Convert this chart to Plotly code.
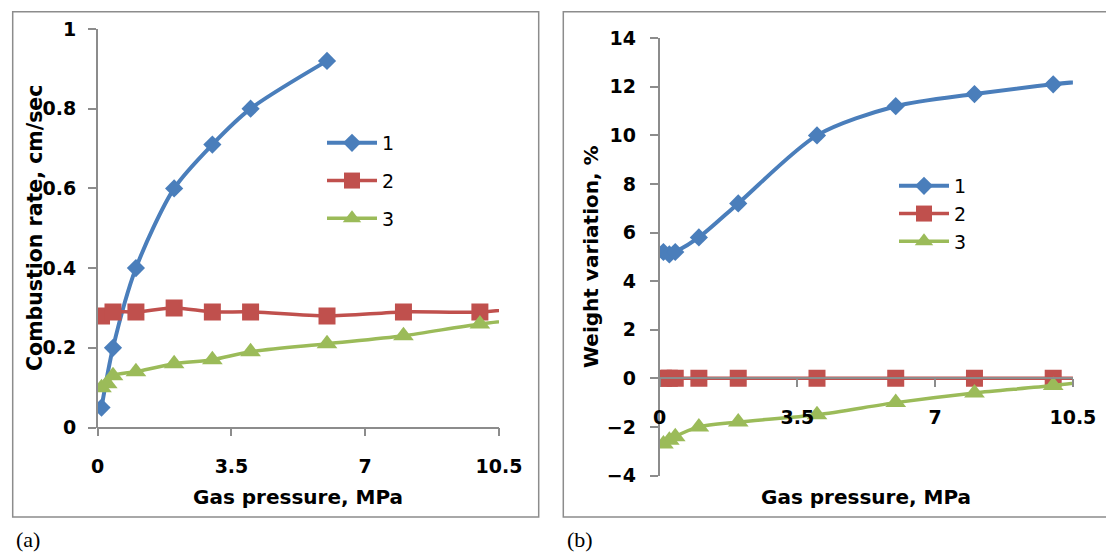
import plotly.graph_objects as go

# ---------------- data ----------------
# (a) combustion rate, cm/sec
a_x1 = [0.1, 0.4, 1, 2, 3, 4, 6]
a_y1 = [0.05, 0.20, 0.40, 0.60, 0.71, 0.80, 0.92]
a_x2 = [0.1, 0.4, 1, 2, 3, 4, 6, 8, 10, 12]
a_y2 = [0.28, 0.29, 0.29, 0.30, 0.29, 0.29, 0.28, 0.29, 0.29, 0.31]
a_x3 = [0.1, 0.25, 0.4, 1, 2, 3, 4, 6, 8, 10, 12]
a_y3 = [0.10, 0.11, 0.13, 0.14, 0.16, 0.17, 0.19, 0.21, 0.23, 0.26, 0.28]

# (b) weight variation, %
b_x = [0.1, 0.25, 0.4, 1, 2, 4, 6, 8, 10, 12]
b_y1 = [5.2, 5.1, 5.2, 5.8, 7.2, 10.0, 11.2, 11.7, 12.1, 12.4]
b_y2 = [0, 0, 0, 0, 0, 0, 0, 0, 0, 0]
b_y3 = [-2.7, -2.55, -2.4, -2.0, -1.8, -1.5, -1.0, -0.6, -0.3, 0.1]

series_names = ["1", "2", "3"]
x_ticks = [0, 3.5, 7, 10.5]
x_ticktext = ["0", "3.5", "7", "10.5"]
a_yticks = [0, 0.2, 0.4, 0.6, 0.8, 1]
a_yticktext = ["0", "0.2", "0.4", "0.6", "0.8", "1"]
b_yticks = [-4, -2, 0, 2, 4, 6, 8, 10, 12, 14]

# ---------------- style ----------------
OFF = 8                      # page body margin of the viewer
W, H = 1114 - OFF, 555 - OFF
BLUE, RED, GREEN = "#4A7EBB", "#C0504D", "#9BBB59"
GRAY = "#8C8C8C"
FONT = "DejaVu Sans"


def X(p):
    return (p - OFF) / W


def Y(p):
    return 1 - (p - OFF) / H


fig = go.Figure()

styles = [
    dict(color=BLUE, symbol="diamond", msize=14, lw=4),
    dict(color=RED, symbol="square", msize=17, lw=3.5),
    dict(color=GREEN, symbol="triangle-up", msize=18, lw=3.5),
]

a_data = [(a_x1, a_y1), (a_x2, a_y2), (a_x3, a_y3)]
b_data = [(b_x, b_y1), (b_x, b_y2), (b_x, b_y3)]

for i, (xs, ys) in enumerate(a_data):
    s = styles[i]
    fig.add_trace(go.Scatter(
        x=xs, y=ys, name=series_names[i], mode="lines+markers",
        line=dict(color=s["color"], width=s["lw"], shape="spline", smoothing=0.8),
        marker=dict(symbol=s["symbol"], size=s["msize"], color=s["color"]),
        xaxis="x", yaxis="y", legend="legend", legendgroup="a" + str(i),
    ))

for i, (xs, ys) in enumerate(b_data):
    s = styles[i]
    fig.add_trace(go.Scatter(
        x=xs, y=ys, name=series_names[i], mode="lines+markers",
        line=dict(color=s["color"], width=s["lw"], shape="spline", smoothing=0.8),
        marker=dict(symbol=s["symbol"], size=s["msize"], color=s["color"]),
        xaxis="x2", yaxis="y2", legend="legend2", legendgroup="b" + str(i),
    ))

tickfont = dict(family=FONT, size=19, color="black", weight="bold")
axis_common = dict(
    showgrid=False, zeroline=False, showline=True, linecolor=GRAY, linewidth=1.5,
    ticks="outside", ticklen=8, tickcolor=GRAY, tickwidth=1.5, tickfont=tickfont,
    automargin=False,
)

# plot areas (pixel measurements from the reference)
a_x0, a_x1p = 97.7, 499.0
a_ytop, a_ybot = 29.0, 427.5
b_x0, b_x1p = 659.5, 1072.9
b_ytop, b_ybot = 38.2, 475.5
b_zero = 378.3

fig.update_layout(
    width=W, height=H,
    margin=dict(l=0, r=0, t=0, b=0, autoexpand=False),
    paper_bgcolor="white", plot_bgcolor="white",
    showlegend=True,
    xaxis=dict(axis_common, domain=[X(a_x0), X(a_x1p)], range=[0, 10.5],
               tickvals=x_ticks, ticktext=x_ticktext, anchor="free",
               position=Y(a_ybot), ticklabelstandoff=14),
    yaxis=dict(axis_common, domain=[Y(a_ybot), Y(a_ytop)], range=[0, 1],
               tickvals=a_yticks, ticktext=a_yticktext, anchor="x",
               ticklabelstandoff=8),
    xaxis2=dict(axis_common, domain=[X(b_x0), X(b_x1p)], range=[0, 10.5],
                tickvals=x_ticks, ticktext=x_ticktext, anchor="free",
                position=Y(b_zero), ticklabelstandoff=14),
    yaxis2=dict(axis_common, domain=[Y(b_ybot), Y(b_ytop)], range=[-4, 14],
                tickvals=b_yticks, anchor="x2", ticklabelstandoff=10),
    legend=dict(x=X(322), y=Y(124), xanchor="left", yanchor="top",
                font=dict(family=FONT, size=19, color="black"),
                bgcolor="rgba(0,0,0,0)", tracegroupgap=10, itemwidth=50),
    legend2=dict(x=X(894), y=Y(167), xanchor="left", yanchor="top",
                 font=dict(family=FONT, size=19, color="black"),
                 bgcolor="rgba(0,0,0,0)", tracegroupgap=0, itemwidth=50),
)

# frames around the two panels
fig.add_shape(type="rect", xref="paper", yref="paper",
              x0=X(12.7), x1=X(538.7), y0=Y(517), y1=Y(11.7),
              line=dict(color=GRAY, width=1.5))
fig.add_shape(type="rect", xref="paper", yref="paper",
              x0=X(563.3), x1=X(1111.7), y0=Y(517), y1=Y(11.7),
              line=dict(color=GRAY, width=1.5))

titlefont = dict(family=FONT, size=20, color="black", weight="bold")
ann = [
    dict(text="Gas pressure, MPa", x=X(298), y=Y(497), font=titlefont),
    dict(text="Gas pressure, MPa", x=X(866), y=Y(497), font=titlefont),
    dict(text="Combustion rate, cm/sec", x=X(35), y=Y(228),
         font=dict(titlefont, size=20.5), textangle=-90),
    dict(text="Weight variation, %", x=X(591), y=Y(257), font=titlefont, textangle=-90),
    dict(text="(a)", x=X(28), y=Y(539), font=dict(family="Liberation Serif", size=22, color="black")),
    dict(text="(b)", x=X(580), y=Y(539), font=dict(family="Liberation Serif", size=22, color="black")),
]
for a in ann:
    fig.add_annotation(xref="paper", yref="paper", showarrow=False,
                       xanchor="center", yanchor="middle", **a)

fig.write_html("out.html")
